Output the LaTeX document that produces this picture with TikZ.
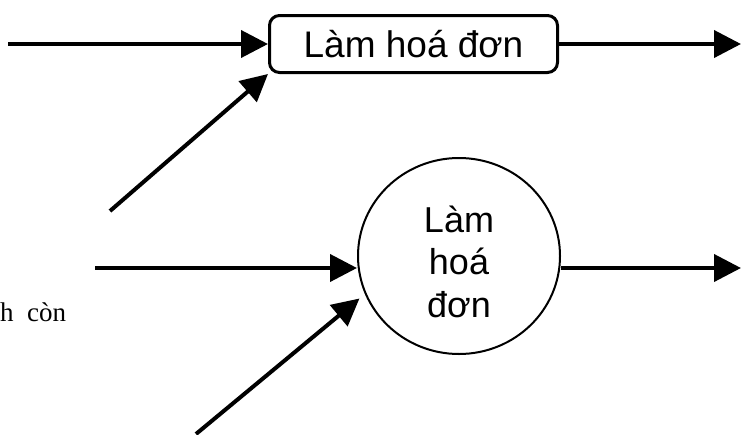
\documentclass[tikz,border=0pt]{standalone}
\usepackage{fontspec}
\setmainfont{Liberation Serif}
\newfontfamily\arialf{Liberation Sans}
\usetikzlibrary{arrows.meta,shapes.geometric}

\tikzset{
  flow/.style={line width=4pt, -{Triangle[length=27pt,width=27pt]}},
  procbox/.style={draw, line width=3pt, rounded corners=10pt, inner sep=0pt,
    minimum width=288pt, minimum height=57pt, font=\arialf\fontsize{37}{42}\selectfont},
  procell/.style={draw, ellipse, line width=2pt, inner sep=0pt,
    minimum width=202pt, minimum height=196pt},
  proctext/.style={align=center, inner sep=0pt, font=\arialf\fontsize{36}{42.5}\selectfont},
}

\begin{document}
\begin{tikzpicture}[x=1pt, y=-1pt]
  \useasboundingbox (0,0) rectangle (741,434);

  % upper process: rounded box
  \node[procbox] (box) at (413.5,44) {Làm hoá đơn};
  \coordinate (inA) at (8,44);
  \coordinate (outA) at (741,44);
  \coordinate (dA) at (110,211);
  \draw[flow] (inA) -- (box.west);
  \draw[flow] (dA) -- (box.south west);
  \draw[flow] (box.east) -- (outA);

  % lower process: circle
  \node[procell] (circ) at (459,256) {};
  \node[proctext, anchor=base] (ctext) at (459,317) {Làm\\hoá\\đơn};
  \coordinate (inB) at (95,268);
  \coordinate (outB) at (741,268);
  \coordinate (dB) at (196,434);
  \draw[flow] (inB) -- (inB -| circ.west);
  \draw[flow, shorten >=7pt] (dB) -- (circ.202);
  \draw[flow] (outB -| circ.east) -- (outB);

  % fragment of running text at the left edge
  \node[anchor=base west, inner sep=0pt, font=\fontsize{27}{32}\selectfont] (frag) at (0,321) {h\hspace{0.5em}còn};
\end{tikzpicture}
\end{document}
